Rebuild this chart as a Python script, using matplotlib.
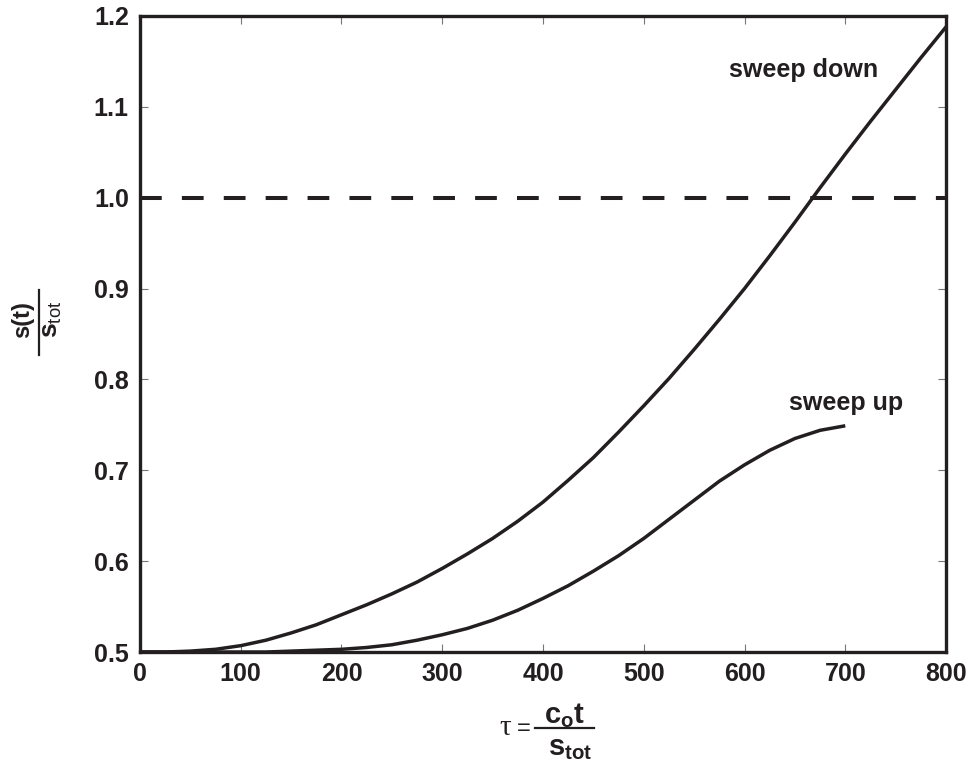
import numpy as np
import matplotlib
matplotlib.use('Agg')
import matplotlib.pyplot as plt
from matplotlib.lines import Line2D

plt.rcParams['font.family'] = ['Liberation Sans', 'DejaVu Sans']
plt.rcParams['mathtext.fontset'] = 'custom'
plt.rcParams['mathtext.rm'] = 'Liberation Sans'
plt.rcParams['mathtext.bf'] = 'Liberation Sans:bold'
plt.rcParams['mathtext.it'] = 'Liberation Sans:italic'

# values
tau_down = [0, 25, 50, 75, 100, 125, 150, 175, 200, 225, 250, 275, 300, 325, 350, 375, 400,
            425, 450, 475, 500, 525, 550, 575, 600, 625, 650, 675, 700, 725, 750, 775, 800]
s_down = [0.500, 0.500, 0.501, 0.503, 0.507, 0.513, 0.521, 0.530, 0.541, 0.552, 0.564, 0.577,
          0.592, 0.608, 0.625, 0.644, 0.665, 0.689, 0.714, 0.742, 0.771, 0.801, 0.833, 0.866,
          0.900, 0.936, 0.973, 1.011, 1.048, 1.084, 1.119, 1.154, 1.188]

tau_up = [0, 25, 50, 75, 100, 125, 150, 175, 200, 225, 250, 275, 300, 325, 350, 375, 400,
          425, 450, 475, 500, 525, 550, 575, 600, 625, 650, 675, 700]
s_up = [0.500, 0.500, 0.500, 0.500, 0.500, 0.500, 0.501, 0.502, 0.503, 0.505, 0.508, 0.513,
        0.519, 0.526, 0.535, 0.546, 0.559, 0.573, 0.589, 0.606, 0.625, 0.646, 0.667, 0.688,
        0.706, 0.722, 0.735, 0.744, 0.749]

x_ticks = [0, 100, 200, 300, 400, 500, 600, 700, 800]
y_ticks = [0.5, 0.6, 0.7, 0.8, 0.9, 1.0, 1.1, 1.2]
ref_level = 1.0

ink = '#231f20'
W, H = 974, 761

def fx(px):
    return px / W

def fy(py):
    return 1 - py / H

fig = plt.figure(figsize=(9.74, 7.61), dpi=100)
ax = fig.add_axes([0.1437, 0.1432, 0.8276, 0.8358])

ax.plot(tau_down, s_down, color=ink, lw=2.5, solid_joinstyle='round')
ax.plot(tau_up, s_up, color=ink, lw=2.5, solid_joinstyle='round', solid_capstyle='butt')
ax.axhline(ref_level, color=ink, lw=2.9, dashes=(5.4, 5.0))

ax.text(585, 1.14, 'sweep down', fontsize=18, fontweight='bold', color=ink, va='center')
ax.text(644, 0.774, 'sweep up', fontsize=18, fontweight='bold', color=ink, va='center')

ax.set_xlim(0, 800)
ax.set_ylim(0.5, 1.2)
ax.set_xticks(x_ticks)
ax.set_yticks(y_ticks)
ax.set_yticklabels([f'{v:.1f}' for v in y_ticks])
for lab in ax.get_xticklabels() + ax.get_yticklabels():
    lab.set_fontweight('bold')
    lab.set_fontsize(18)
    lab.set_color(ink)
ax.tick_params(direction='in', length=6, width=0.8, color='#777777', top=True, right=True)
ax.tick_params(axis='x', pad=7)
ax.tick_params(axis='y', pad=8)
for sp in ax.spines.values():
    sp.set_linewidth(2.4)
    sp.set_color(ink)

# y label: s(t) over s_tot, rotated
fig.text(fx(29), fy(338), 's(t)', fontsize=17, fontweight='bold', color=ink,
         rotation=90, rotation_mode='anchor', ha='left', va='baseline')
fig.text(fx(58), fy(338), r'$\mathbf{s}_{\mathrm{tot}}$', fontsize=19, color=ink,
         rotation=90, rotation_mode='anchor', ha='left', va='baseline')
fig.add_artist(Line2D([fx(39), fx(39)], [fy(355), fy(290)], color=ink, lw=1.6,
                      transform=fig.transFigure))

# x label: tau = c_o t over s_tot
fig.text(fx(505), fy(735), '\u03c4', fontsize=21, family='Liberation Serif', color=ink,
         ha='center', va='baseline')
fig.text(fx(524), fy(735), '=', fontsize=17, color=ink, ha='center', va='baseline')
fig.add_artist(Line2D([fx(535), fx(594)], [fy(728), fy(728)], color=ink, lw=1.6,
                      transform=fig.transFigure))
fig.text(fx(565), fy(723), r'$\mathbf{c_{o}t}$', fontsize=21, color=ink,
         ha='center', va='baseline')
fig.text(fx(570), fy(755), r'$\mathbf{s_{tot}}$', fontsize=21, color=ink,
         ha='center', va='baseline')

fig.savefig('out.png', dpi=100)
